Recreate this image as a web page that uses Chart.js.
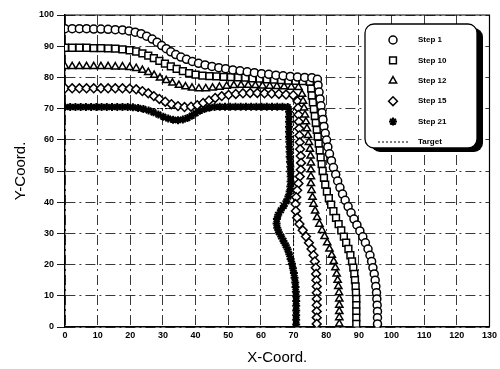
<!DOCTYPE html>
<html>
<head>
<meta charset="utf-8">
<script src="https://cdn.jsdelivr.net/npm/chart.js@4/dist/chart.umd.min.js"></script>
<style>
  body { margin: 0; background: #fff; }
</style>
</head>
<body>
<canvas id="chart" width="500" height="369"></canvas>
<script>
// values, [x, y] per marker
const seriesNames = ['Step 1', 'Step 10', 'Step 12', 'Step 15', 'Step 21'];

const step1 = [[0,95.6],[2.2,95.6],[4.4,95.6],[6.6,95.6],[8.8,95.5],[11,95.5],[13.2,95.4],[15.4,95.3],[17.6,95.2],[19.6,94.9],[21.5,94.5],[23.3,94],[25,93.2],[26.7,92.3],[28.2,91.3],[29.6,90.2],[31,89.2],[32.4,88.2],[33.9,87.3],[35.5,86.5],[37.2,85.8],[39,85.1],[40.9,84.5],[42.9,84],[45,83.5],[47.1,83.1],[49.2,82.8],[51.4,82.4],[53.6,82.1],[55.8,81.8],[58,81.5],[60.2,81.2],[62.4,81],[64.6,80.7],[66.8,80.5],[69,80.3],[71.2,80.1],[73.4,80],[75.6,79.9],[77.3,79.4],[77.5,77.5],[77.8,75.3],[78.1,73.1],[78.4,70.9],[78.7,68.7],[79,66.5],[79.3,64.3],[79.7,62.1],[80.1,59.9],[80.5,57.7],[81,55.5],[81.6,53.3],[82.2,51.1],[82.9,48.9],[83.5,46.8],[84.2,44.7],[85,42.6],[85.8,40.6],[86.7,38.6],[87.6,36.6],[88.5,34.6],[89.4,32.7],[90.3,30.8],[91.2,28.9],[92,27],[92.8,25],[93.4,23],[93.9,21],[94.3,19],[94.7,17],[95,15],[95.2,13],[95.4,11],[95.5,9],[95.6,7],[95.7,5],[95.7,3],[95.7,1]];

const step10 = [[0,89.5],[2.2,89.5],[4.4,89.5],[6.6,89.5],[8.8,89.4],[11,89.4],[13.2,89.3],[15.4,89.2],[17.6,89],[19.8,88.7],[21.8,88.3],[23.7,87.7],[25.5,87],[27.2,86.2],[28.9,85.3],[30.6,84.4],[32.4,83.5],[34.2,82.7],[36.1,82],[38,81.4],[40,80.9],[42.1,80.6],[44.2,80.4],[46.4,80.3],[48.6,80.2],[50.8,80.1],[53,80],[55.2,79.9],[57.4,79.7],[59.6,79.6],[61.8,79.4],[64,79.3],[66.2,79.1],[68.4,79],[70.6,78.9],[72.8,78.8],[75,78.6],[75.4,76.4],[75.6,74.2],[75.9,72],[76.2,69.8],[76.5,67.6],[76.8,65.4],[77.1,63.2],[77.4,61],[77.7,58.8],[78,56.6],[78.3,54.4],[78.6,52.2],[78.9,50],[79.3,47.8],[79.7,45.6],[80.2,43.4],[80.8,41.3],[81.5,39.2],[82.2,37.1],[83,35],[83.8,33],[84.6,31],[85.4,29],[86.1,27],[86.8,25],[87.4,23],[87.9,21],[88.3,19],[88.6,17],[88.8,15],[89,13],[89.1,11],[89.2,9],[89.2,7],[89.2,5],[89.2,3],[89.2,1]];

const step12 = [[0,83.5],[2.2,83.5],[4.4,83.5],[6.6,83.5],[8.8,83.5],[11,83.5],[13.2,83.5],[15.4,83.4],[17.6,83.4],[19.8,83.2],[21.8,82.9],[23.7,82.3],[25.5,81.6],[27.3,80.7],[29.1,79.8],[31,79],[32.9,78.2],[34.9,77.5],[36.9,77],[38.9,76.6],[41,76.4],[43.1,76.4],[45.2,76.6],[47.3,76.9],[49.5,77.2],[51.7,77.4],[53.9,77.5],[56.1,77.5],[58.3,77.4],[60.5,77.3],[62.7,77.2],[64.9,77.1],[67.1,77],[69.3,76.9],[71.5,76.8],[72.6,74.6],[72.9,72.4],[73.2,70.2],[73.5,68],[73.8,65.8],[74.1,63.6],[74.4,61.4],[74.7,59.2],[75,57],[75.2,54.8],[75.3,52.6],[75.3,50.4],[75.3,48.2],[75.3,46],[75.5,43.8],[75.8,41.6],[76.1,39.4],[76.6,37.2],[77.2,35.1],[77.9,33],[78.7,31],[79.5,29],[80.3,27],[81,25],[81.7,23],[82.3,21],[82.8,19],[83.2,17],[83.5,15],[83.7,13],[83.9,11],[84,9],[84,7],[84,5],[84,3],[84,1]];

const step15 = [[0,76.5],[2.2,76.5],[4.4,76.5],[6.6,76.5],[8.8,76.5],[11,76.5],[13.2,76.5],[15.4,76.5],[17.6,76.5],[19.8,76.4],[21.8,76.2],[23.7,75.6],[25.5,74.9],[27.2,74],[28.9,73.1],[30.7,72.2],[32.6,71.4],[34.6,70.8],[36.6,70.5],[38.6,70.6],[40.5,71.1],[42.3,71.8],[44.1,72.6],[46,73.4],[48,74],[50.1,74.4],[52.3,74.7],[54.5,74.9],[56.7,75],[58.9,75],[61.1,74.9],[63.3,74.8],[65.5,74.7],[67.7,74.5],[69.9,74.3],[71.2,72.4],[71.4,70.2],[71.5,68],[71.6,65.8],[71.7,63.6],[71.8,61.4],[71.9,59.2],[72,57],[72.2,54.8],[72.3,52.6],[72.2,50.4],[71.9,48.2],[71.5,46],[71.1,43.8],[70.8,41.6],[70.6,39.4],[70.7,37.2],[71.1,35],[71.8,33],[72.8,31],[73.8,29],[74.7,27],[75.5,25],[76.1,23],[76.5,21],[76.8,19],[76.9,17],[77,15],[77.1,13],[77.1,11],[77.1,9],[77.1,7],[77.1,5],[77.1,3],[77.1,1]];

const step21 = [[0,70.5],[1.6,70.5],[3.2,70.5],[4.8,70.5],[6.4,70.5],[8,70.5],[9.6,70.5],[11.2,70.5],[12.8,70.5],[14.4,70.5],[16,70.5],[17.6,70.5],[19.2,70.5],[20.8,70.4],[22.4,70.2],[24,69.9],[25.6,69.4],[27.1,68.8],[28.6,68.1],[30.1,67.4],[31.6,66.8],[33.1,66.4],[34.6,66.3],[36.1,66.5],[37.5,67],[38.8,67.7],[40,68.5],[41.3,69.3],[42.7,69.9],[44.2,70.3],[45.8,70.5],[47.4,70.6],[49,70.6],[50.6,70.6],[52.2,70.6],[53.8,70.6],[55.4,70.6],[57,70.6],[58.6,70.6],[60.2,70.6],[61.8,70.6],[63.4,70.6],[65,70.6],[66.6,70.6],[68.2,70.5],[68.6,69],[68.6,67.4],[68.6,65.8],[68.6,64.2],[68.6,62.6],[68.6,61],[68.7,59.4],[68.7,57.8],[68.8,56.2],[68.8,54.6],[68.9,53],[69,51.4],[69,49.8],[69.1,48.2],[69.1,46.6],[69,45],[68.8,43.4],[68.4,41.8],[67.8,40.3],[67,38.8],[66.1,37.4],[65.3,36],[64.9,34.6],[64.8,33.2],[65,31.8],[65.5,30.4],[66.2,29],[66.9,27.6],[67.6,26.2],[68.2,24.8],[68.7,23.3],[69.1,21.8],[69.5,20.3],[69.8,18.8],[70.1,17.3],[70.3,15.8],[70.5,14.3],[70.6,12.8],[70.7,11.3],[70.8,9.8],[70.8,8.3],[70.8,6.8],[70.8,5.3],[70.8,3.8],[70.8,2.3],[70.8,0.8]];

const target = [[0,70],[70,70],[70,0]];

const xRange = [0, 130];
const yRange = [0, 100];
const tickStep = 10;

const FONT = "'Liberation Sans', Arial, sans-serif";

function markerSet(label, data, style, radius, width) {
    return {
        label: label,
        data: data,
        showLine: false,
        pointStyle: style,
        pointRadius: radius,
        pointBackgroundColor: '#fff',
        pointBorderColor: '#000',
        pointBorderWidth: width
    };
}

// black box on top / right edge of the plot
const frame = {
    id: 'frame',
    beforeDatasetsDraw(chart) {
        const { ctx, chartArea: a } = chart;
        ctx.save();
        ctx.strokeStyle = '#000';
        ctx.lineWidth = 1.2;
        ctx.beginPath();
        ctx.moveTo(a.left, a.top);
        ctx.lineTo(a.right, a.top);
        ctx.lineTo(a.right, a.bottom);
        ctx.stroke();
        ctx.restore();
    }
};

// rounded legend box with a drop shadow, inside the plot
const legendBox = {
    id: 'legendBox',
    afterDatasetsDraw(chart) {
        const ctx = chart.ctx;
        const bx = 365, by = 24, bw = 112, bh = 124;
        ctx.save();
        ctx.fillStyle = '#000';
        ctx.beginPath();
        ctx.roundRect(bx + 6, by + 4, bw, bh, 9);
        ctx.fill();
        ctx.fillStyle = '#fff';
        ctx.strokeStyle = '#000';
        ctx.lineWidth = 1.3;
        ctx.beginPath();
        ctx.roundRect(bx, by, bw, bh, 9);
        ctx.fill();
        ctx.stroke();

        ctx.font = 'bold 8px ' + FONT;
        ctx.textBaseline = 'middle';
        chart.data.datasets.forEach((ds, i) => {
            const y = 40 + i * 20.4;
            if (ds.showLine) {
                ctx.setLineDash([2, 2]);
                ctx.lineWidth = 1.2;
                ctx.beginPath();
                ctx.moveTo(378, y);
                ctx.lineTo(410, y);
                ctx.stroke();
                ctx.setLineDash([]);
            } else {
                ctx.fillStyle = '#fff';
                ctx.lineWidth = ds.pointBorderWidth;
                Chart.helpers.drawPoint(ctx, {
                    pointStyle: ds.pointStyle,
                    radius: ds.pointRadius,
                    rotation: 0,
                    borderWidth: ds.pointBorderWidth
                }, 393, y);
            }
            ctx.fillStyle = '#000';
            ctx.fillText(ds.label, 418, y);
        });
        ctx.restore();
    }
};

new Chart(document.getElementById('chart'), {
    type: 'scatter',
    data: {
        datasets: [
            markerSet(seriesNames[0], step1, 'circle', 4, 1.5),
            markerSet(seriesNames[1], step10, 'rect', 4.8, 1.5),
            markerSet(seriesNames[2], step12, 'triangle', 4.2, 1.5),
            markerSet(seriesNames[3], step15, 'rectRot', 4.4, 1.5),
            markerSet(seriesNames[4], step21, 'star', 4, 2),
            {
                label: 'Target',
                data: target,
                showLine: true,
                borderColor: '#000',
                borderWidth: 1,
                borderDash: [2, 2],
                pointRadius: 0,
                fill: false
            }
        ]
    },
    options: {
        responsive: false,
        animation: false,
        layout: { padding: { top: 15, right: 7, left: 0, bottom: 0 } },
        plugins: {
            legend: { display: false },
            tooltip: { enabled: false }
        },
        scales: {
            x: {
                type: 'linear',
                min: xRange[0],
                max: xRange[1],
                afterFit: s => { s.height = 42; },
                ticks: {
                    stepSize: tickStep,
                    color: '#000',
                    padding: 3,
                    maxRotation: 0,
                    font: { family: FONT, size: 9, weight: 'bold' }
                },
                grid: { color: '#222', lineWidth: 0.9, drawTicks: false },
                border: { color: '#000', width: 1.4, dash: [10, 4, 2, 4] },
                title: {
                    display: true,
                    text: 'X-Coord.',
                    color: '#000',
                    padding: 2,
                    font: { family: FONT, size: 15 }
                }
            },
            y: {
                type: 'linear',
                min: yRange[0],
                max: yRange[1],
                afterFit: s => { s.width = 65; },
                ticks: {
                    stepSize: tickStep,
                    color: '#000',
                    padding: 3,
                    font: { family: FONT, size: 9, weight: 'bold' }
                },
                grid: { color: '#222', lineWidth: 0.9, tickLength: 8, tickColor: '#000', tickBorderDash: [] },
                border: { color: '#000', width: 1.4, dash: [10, 4, 2, 4] },
                title: {
                    display: true,
                    text: 'Y-Coord.',
                    color: '#000',
                    padding: 12,
                    font: { family: FONT, size: 15 }
                }
            }
        }
    },
    plugins: [frame, legendBox]
});
</script>
</body>
</html>
